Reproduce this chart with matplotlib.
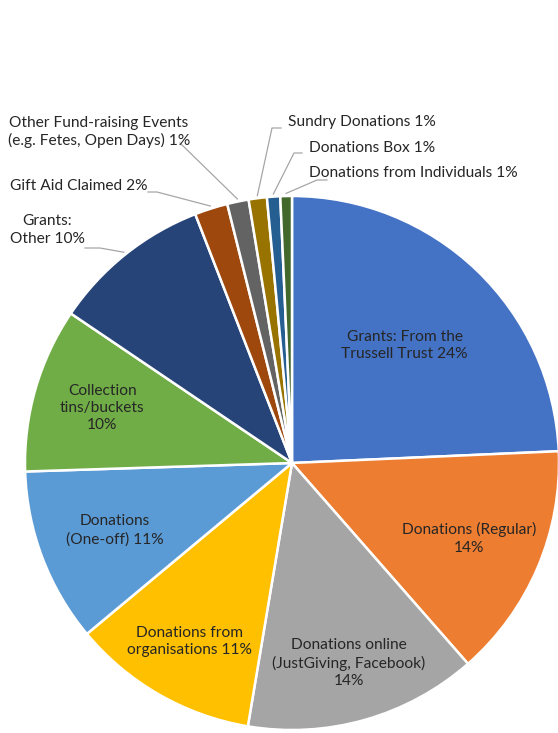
import matplotlib.pyplot as plt
import numpy as np

plt.rcParams['font.family'] = ['Lato', 'DejaVu Sans']

# slices, clockwise from 12 o'clock
categories = ["Grants: From the\nTrussell Trust", "Donations (Regular)\n", "Donations online\n(JustGiving, Facebook)\n",
              "Donations from\norganisations", "Donations\n(One-off)", "Collection\ntins/buckets\n",
              "Grants:\nOther", "Gift Aid Claimed", "Other Fund-raising Events\n(e.g. Fetes, Open Days)",
              "Sundry Donations", "Donations Box", "Donations from Individuals"]
values = [24.3, 14.25, 14.1, 11.3, 10.55, 9.97, 9.64, 2.0, 1.3, 1.1, 0.8, 0.7]
colors = ["#4472C4", "#ED7D31", "#A5A5A5", "#FFC000", "#5B9BD5", "#70AD47",
          "#264478", "#9E480E", "#636363", "#997300", "#255E91", "#43682B"]

W, H = 558, 733
cx, cy, R = 292, 463, 267

def to_data(px, py):
    return (px - cx) / R, (cy - py) / R

fig = plt.figure(figsize=(W / 100, H / 100), dpi=100)
ax = fig.add_axes([0, 0, 1, 1])

wedges, _ = ax.pie(values, colors=colors, startangle=90, counterclock=False, radius=1,
                   wedgeprops=dict(edgecolor='white', linewidth=1.8))
ax.set_xlim(-cx / R, (W - cx) / R)
ax.set_ylim(-(H - cy) / R, cy / R)
ax.axis('off')

total = sum(values)
pcts = [round(v / total * 100) for v in values]

def label_text(i):
    name = categories[i]
    if name.endswith("\n"):
        return name + f"{pcts[i]}%"
    return name + f" {pcts[i]}%"

fs = 11.2
# inside labels: distance from center
inside = {0: 0.61, 1: 0.72, 2: 0.78, 3: 0.77, 4: 0.71, 5: 0.74}
for i, d in inside.items():
    w = wedges[i]
    mid = np.deg2rad((w.theta1 + w.theta2) / 2)
    ax.text(d * np.cos(mid), d * np.sin(mid), label_text(i), ha='center', va='center',
            fontsize=fs, color='#262626', linespacing=1.3)

# outside labels: text anchor (pixels), elbow points (pixels)
outside = {
    6: ((10, 230), [(85, 248), (100, 248)]),
    7: ((10, 186), [(148, 192), (157, 192)]),
    8: ((8, 132), [(180, 143)]),
    9: ((288, 122), [(281, 128), (272, 128)]),
    10: ((309, 148), [(302, 153), (294, 153)]),
    11: ((309, 173), [(327, 180), (317, 180)]),
}
for i, (pos, elbow) in outside.items():
    tx, ty = to_data(*pos)
    ax.text(tx, ty, label_text(i), ha='left', va='center', multialignment='center',
            fontsize=fs, color='#262626', linespacing=1.3)
    w = wedges[i]
    mid = np.deg2rad((w.theta1 + w.theta2) / 2)
    pts = [to_data(*p) for p in elbow] + [(1.01 * np.cos(mid), 1.01 * np.sin(mid))]
    xs, ys = zip(*pts)
    ax.plot(xs, ys, color='#A6A6A6', linewidth=0.9)

fig.savefig("out.png", dpi=100)
